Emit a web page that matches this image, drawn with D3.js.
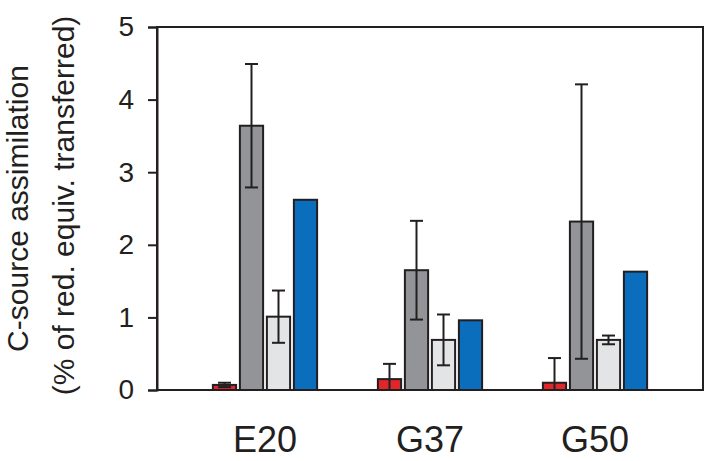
<!DOCTYPE html>
<html>
<head>
<meta charset="utf-8">
<script src="https://cdn.jsdelivr.net/npm/d3@7"></script>
<style>
  html, body { margin: 0; padding: 0; background: #fff; }
  svg { display: block; font-family: "Liberation Sans", Arial, sans-serif; }
</style>
</head>
<body>
<svg id="chart" width="708" height="461"></svg>
<script>
const categories = ["E20", "G37", "G50"];
const seriesNames = ["s1", "s2", "s3", "s4"];
const seriesColors = ["#e0262b", "#929497", "#e3e4e6", "#0b6ebd"];
const values_s1 = [0.07, 0.15, 0.10];
const values_s2 = [3.64, 1.65, 2.32];
const values_s3 = [1.01, 0.69, 0.69];
const values_s4 = [2.62, 0.96, 1.63];
const errors_s1 = [0.03, 0.21, 0.34];
const errors_s2 = [0.85, 0.68, 1.89];
const errors_s3 = [0.36, 0.35, 0.06];
const errors_s4 = [null, null, null];
const yTicks = [0, 1, 2, 3, 4, 5];
const yTitle1 = "C-source assimilation";
const yTitle2 = "(% of red. equiv. transferred)";

const allValues = [values_s1, values_s2, values_s3, values_s4];
const allErrors = [errors_s1, errors_s2, errors_s3, errors_s4];
const data = [];
categories.forEach((c, ci) => {
  seriesNames.forEach((s, si) => {
    data.push({cat: c, series: s, color: seriesColors[si], value: allValues[si][ci], err: allErrors[si][ci]});
  });
});

const svg = d3.select("#chart");
const pLeft = 157, pRight = 703, pTop = 27, pBottom = 390;

const y = d3.scaleLinear().domain([0, 5]).range([pBottom, pTop]);
const x0 = d3.scaleBand().domain(categories).range([pLeft, pRight]).paddingInner(0).paddingOuter(0.1545);
const x1 = d3.scaleBand().domain(seriesNames).range([-54, 54]).paddingInner(0.14).paddingOuter(0.07);
const cx = d => x0(d.cat) + x0.bandwidth() / 2;

// frame
svg.append("rect").attr("x", pLeft).attr("y", pTop).attr("width", pRight - pLeft).attr("height", pBottom - pTop)
  .attr("fill", "none").attr("stroke", "#231f20").attr("stroke-width", 2);

// y axis
const yAxis = d3.axisLeft(y).tickValues(yTicks).tickSize(9).tickPadding(14).tickFormat(d3.format("d"));
const gy = svg.append("g").attr("transform", `translate(${pLeft},0)`).call(yAxis);
gy.select(".domain").attr("stroke", "#231f20").attr("stroke-width", 2);
gy.selectAll(".tick line").attr("stroke", "#231f20").attr("stroke-width", 2);
gy.selectAll(".tick text").attr("font-size", 28).attr("fill", "#231f20")
  .attr("font-family", "Liberation Sans, Arial, sans-serif");

// bars
svg.append("g").selectAll("rect").data(data).join("rect")
  .attr("x", d => cx(d) + x1(d.series))
  .attr("y", d => y(d.value))
  .attr("width", x1.bandwidth())
  .attr("height", d => y(0) - y(d.value))
  .attr("fill", d => d.color)
  .attr("stroke", "#231f20").attr("stroke-width", 2);

// error bars
const eb = svg.append("g").selectAll("g").data(data.filter(d => d.err != null)).join("g")
  .attr("stroke", "#231f20").attr("stroke-width", 2);
const bx = d => cx(d) + x1(d.series) + x1.bandwidth() / 2;
eb.append("line").attr("x1", bx).attr("x2", bx)
  .attr("y1", d => y(d.value + d.err)).attr("y2", d => y(Math.max(0, d.value - d.err)));
eb.append("line").attr("x1", d => bx(d) - 6.5).attr("x2", d => bx(d) + 6.5)
  .attr("y1", d => y(d.value + d.err)).attr("y2", d => y(d.value + d.err));
eb.append("line").attr("x1", d => bx(d) - 6.5).attr("x2", d => bx(d) + 6.5)
  .attr("y1", d => y(Math.max(0, d.value - d.err))).attr("y2", d => y(Math.max(0, d.value - d.err)));

// category labels
svg.append("g").selectAll("text").data(categories).join("text")
  .attr("x", d => x0(d) + x0.bandwidth() / 2)
  .attr("y", 452)
  .attr("text-anchor", "middle")
  .attr("font-size", 36)
  .attr("fill", "#231f20")
  .text(d => d);

// y titles
const cy = (pTop + pBottom) / 2;
svg.append("text").attr("transform", `translate(28,${cy}) rotate(-90)`)
  .attr("text-anchor", "middle").attr("font-size", 30).attr("fill", "#231f20").text(yTitle1);
svg.append("text").attr("transform", `translate(74,${cy - 3}) rotate(-90)`)
  .attr("text-anchor", "middle").attr("font-size", 30).attr("fill", "#231f20").text(yTitle2);
</script>
</body>
</html>
